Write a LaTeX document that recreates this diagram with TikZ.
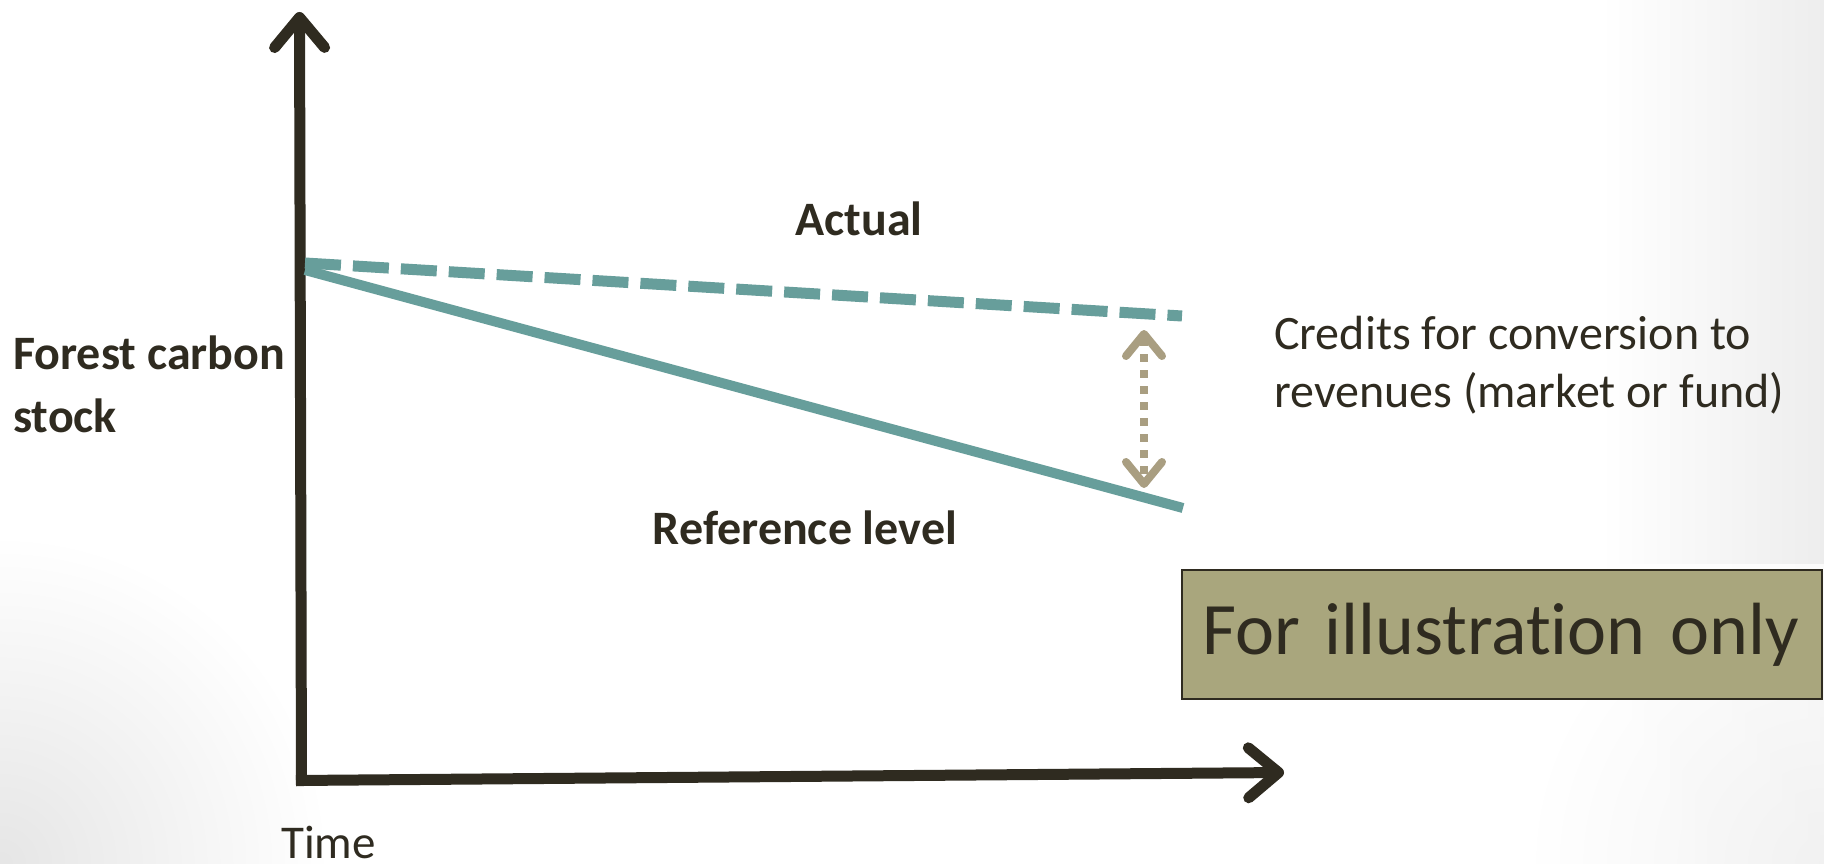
\documentclass[tikz,border=0pt]{standalone}
\usepackage{fontspec}
\setmainfont{Carlito}[Ligatures=NoCommon]
\usetikzlibrary{arrows.meta}
\definecolor{axisc}{HTML}{2F2B20}
\definecolor{tealc}{HTML}{679E9B}
\definecolor{tanc}{HTML}{A99E81}
\definecolor{boxc}{HTML}{A9A67D}
\begin{document}
\begin{tikzpicture}[x=1pt,y=-1pt,
  axisline/.style={draw=axisc,line width=11pt,-{Straight Barb[length=30pt,width=50pt,round]}},
  lbl/.style={inner sep=0pt,text=axisc,font=\fontsize{47}{63}\selectfont},
  lblb/.style={lbl,font=\fontsize{48}{63}\selectfont\bfseries},
  trend/.style={draw=tealc,line width=11pt},
]
\useasboundingbox (0,0) rectangle (1824,864);
\fill[white] (0,0) rectangle (1824,864);
\shade[left color=white,right color=black!7] (1600,0) rectangle (1824,864);
\shade[inner color=black!10,outer color=white] (-330,534) rectangle (330,1194);
\shade[inner color=black!5,outer color=white,opacity=0.8] (1524,564) rectangle (2124,1164);
% axes
\coordinate (O) at (301.5,786);
\coordinate (Ox) at (296,780.5);
\coordinate (ytop) at (299.5,12);
\coordinate (xend) at (1284,772.5);
\draw[axisline] (O) -- (ytop);
\draw[axisline] (Ox) -- (xend);
% trend lines
\coordinate (a0) at (305,263);
\coordinate (a1) at (1182,316);
\coordinate (r0) at (305,270);
\coordinate (r1) at (1183,508);
\draw[trend,dash pattern=on 36pt off 12pt] (a0) -- (a1);
\draw[trend,line width=10pt] (r0) -- (r1);
% credits arrow
\coordinate (c0) at (1144,330);
\coordinate (c1) at (1144,488);
\draw[tanc,line width=8pt,dash pattern=on 8pt off 8pt,{Straight Barb[length=22pt,width=36pt,round]}-{Straight Barb[length=22pt,width=36pt,round]}] (c0) -- (c1);
% labels
\node[lblb,anchor=base] (actual) at (859,235) {Actual};
\node[lblb,anchor=base] (ref) at (805,544) {Reference level};
\node[lblb,anchor=base west,align=left] (ylab) at (13,432) {Forest carbon\\stock};
\node[lbl,anchor=base west,align=left,font=\fontsize{48}{58}\selectfont] (credits) at (1274,407) {Credits for conversion to\\revenues (market or fund)};
\node[lbl,anchor=base west] (time) at (281,858) {Time};
% box
\node[draw=axisc,line width=1.5pt,fill=boxc,minimum width=640pt,minimum height=129pt,inner xsep=20pt,text width=600pt,align=left,text=axisc,font=\fontsize{74}{80}\selectfont] (box) at (1502,634.5) {For illustration only};
\end{tikzpicture}
\end{document}
